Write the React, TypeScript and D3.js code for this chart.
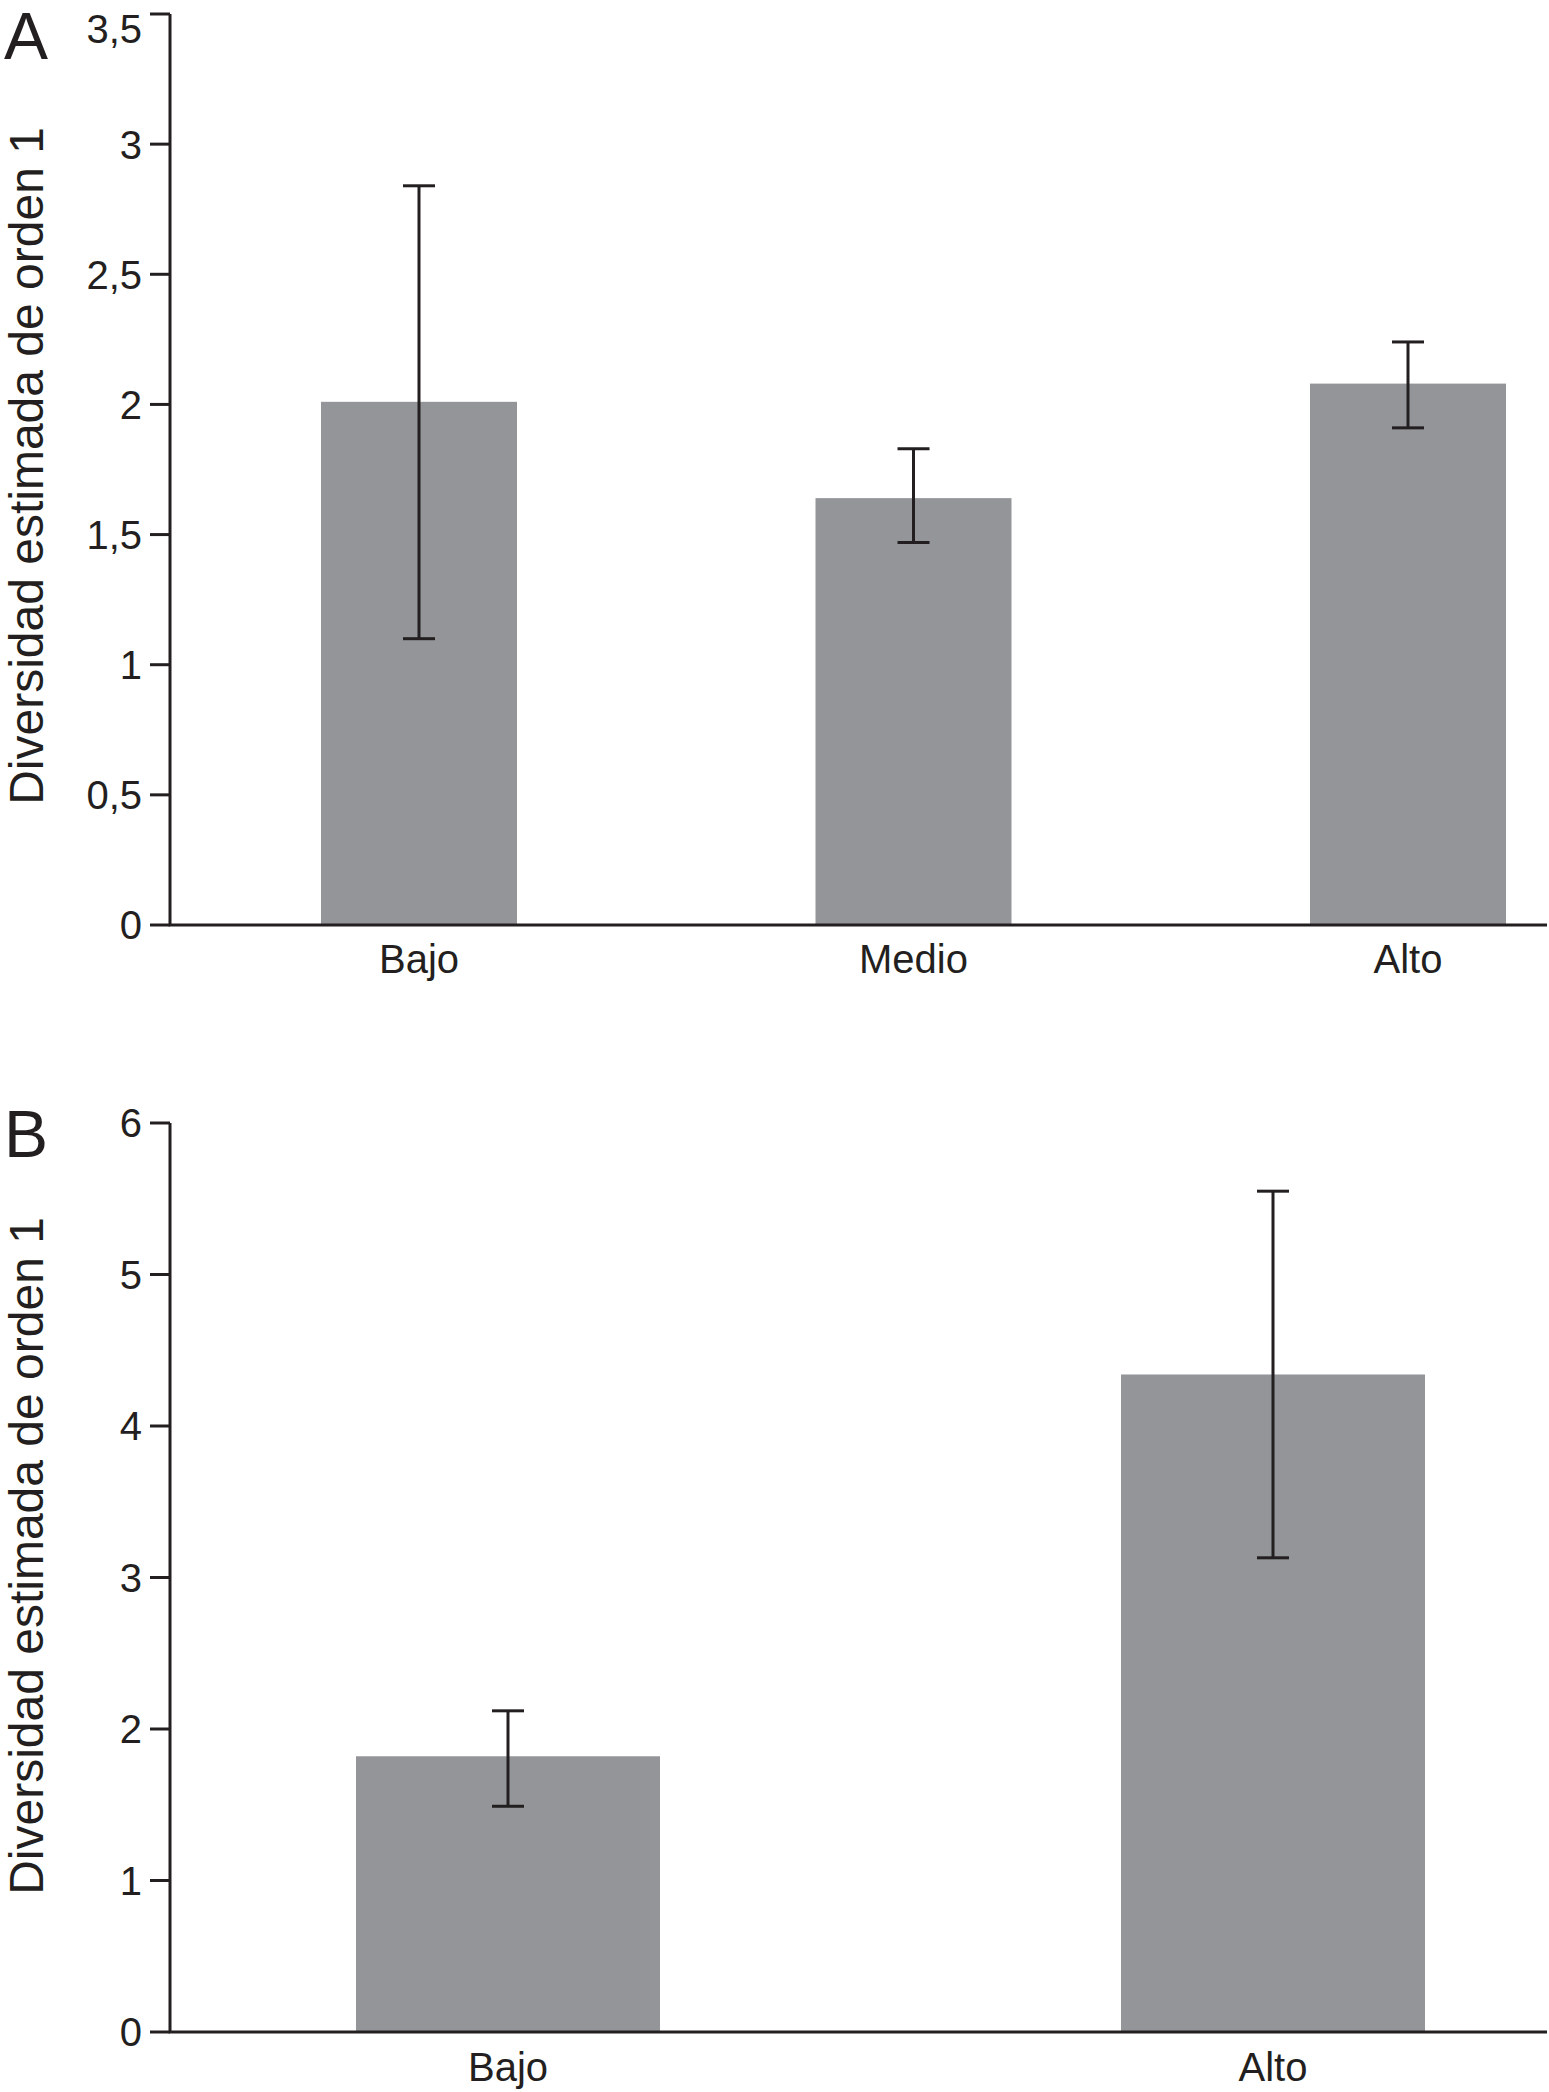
import * as d3 from 'd3';
import React from 'react';

// panel A
const catsA = ['Bajo', 'Medio', 'Alto'];
const meanA = [2.01, 1.64, 2.08];
const upperA = [2.84, 1.83, 2.24];
const lowerA = [1.1, 1.47, 1.91];
const ticksA = [0, 0.5, 1, 1.5, 2, 2.5, 3, 3.5];

// panel B
const catsB = ['Bajo', 'Alto'];
const meanB = [1.82, 4.34];
const upperB = [2.12, 5.55];
const lowerB = [1.49, 3.13];
const ticksB = [0, 1, 2, 3, 4, 5, 6];

const yTitle = 'Diversidad estimada de orden 1';
const ink = '#231f20';
const barFill = '#939598';
const font = '"Liberation Sans", Arial, Helvetica, sans-serif';

const fmt = (v: number) => String(v).replace('.', ',');

function Panel(props: any) {
  const { letter, cats, mean, upper, lower, ticks, yMax, top, bottom, xRange, barW, letterY, titleY, catY } = props;
  const axisX = 170;
  const axisEnd = 1547;

  const y = d3.scaleLinear().domain([0, yMax]).range([bottom, top]);
  const x = d3.scalePoint<string>().domain(cats).range(xRange);
  const cap = 16;

  return (
    <g>
      <text x={4} y={letterY} fontSize={66} fill={ink} fontFamily={font}>{letter}</text>
      <text
        transform={`translate(43,${titleY}) rotate(-90)`}
        textAnchor="middle"
        fontSize={48}
        fill={ink}
        fontFamily={font}
      >{yTitle}</text>

      {cats.map((c: string, i: number) => (
        <rect
          key={'b' + c}
          x={(x(c) as number) - barW / 2}
          y={y(mean[i])}
          width={barW}
          height={y(0) - y(mean[i])}
          fill={barFill}
        />
      ))}

      {cats.map((c: string, i: number) => {
        const cx = x(c) as number;
        return (
          <g key={'e' + c} stroke={ink} strokeWidth={3}>
            <line x1={cx} x2={cx} y1={y(upper[i])} y2={y(lower[i])} />
            <line x1={cx - cap} x2={cx + cap} y1={y(upper[i])} y2={y(upper[i])} />
            <line x1={cx - cap} x2={cx + cap} y1={y(lower[i])} y2={y(lower[i])} />
          </g>
        );
      })}

      {/* axes */}
      <path
        d={`M${axisX},${y(yMax)}V${y(0)}H${axisEnd}`}
        fill="none"
        stroke={ink}
        strokeWidth={3}
      />
      {ticks.map((t: number) => (
        <g key={'t' + t}>
          <line x1={axisX - 20} x2={axisX} y1={y(t)} y2={y(t)} stroke={ink} strokeWidth={3} />
          <text
            x={axisX - 28}
            y={Math.max(y(t), 29)}
            dy="0.36em"
            textAnchor="end"
            fontSize={40}
            fill={ink}
            fontFamily={font}
          >{fmt(t)}</text>
        </g>
      ))}
      {cats.map((c: string) => (
        <text
          key={'l' + c}
          x={x(c) as number}
          y={catY}
          textAnchor="middle"
          fontSize={40}
          fill={ink}
          fontFamily={font}
        >{c}</text>
      ))}
    </g>
  );
}

export default function App() {
  return (
    <svg
      width={1549}
      height={2092}
      viewBox="0 0 1549 2092"
      style={{ position: 'absolute', left: 0, top: 0, background: '#fff' }}
    >
      <rect width={1549} height={2092} fill="#fff" />
      <Panel
        letter="A"
        cats={catsA}
        mean={meanA}
        upper={upperA}
        lower={lowerA}
        ticks={ticksA}
        yMax={3.5}
        top={14}
        bottom={925}
        xRange={[419, 1408]}
        barW={196}
        letterY={59}
        titleY={466}
        catY={973}
      />
      <Panel
        letter="B"
        cats={catsB}
        mean={meanB}
        upper={upperB}
        lower={lowerB}
        ticks={ticksB}
        yMax={6}
        top={1123}
        bottom={2032}
        xRange={[508, 1273]}
        barW={304}
        letterY={1157}
        titleY={1556}
        catY={2081}
      />
    </svg>
  );
}
